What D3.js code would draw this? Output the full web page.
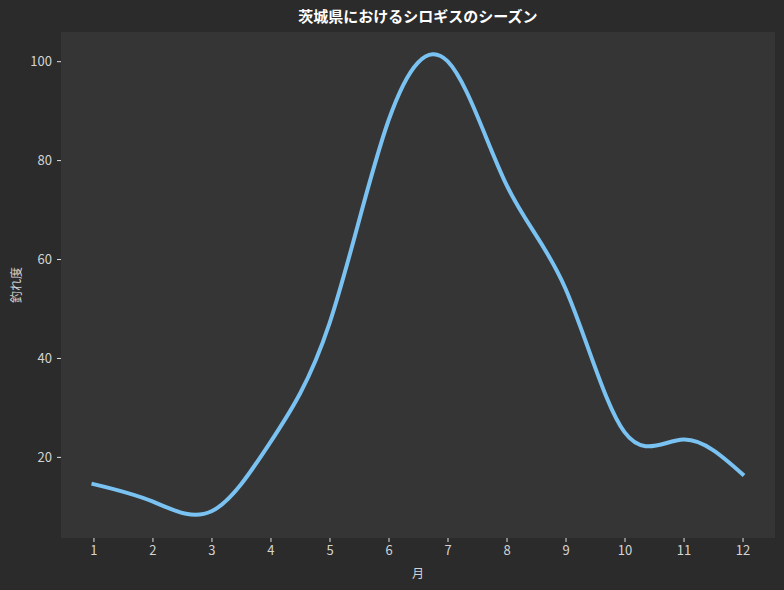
<!DOCTYPE html>
<html>
<head>
<meta charset="utf-8">
<script src="https://cdn.jsdelivr.net/npm/d3@7"></script>
<style>
  html, body { margin: 0; padding: 0; background: #2b2b2b; }
  text { font-family: "Noto Sans CJK JP", "Noto Sans", sans-serif; }
</style>
</head>
<body>
<div class="chart"></div>
<script>
// Monthly values
const months = [1, 2, 3, 4, 5, 6, 7, 8, 9, 10, 11, 12];
const scores = [14.5, 11, 9, 23, 47, 88, 100, 75, 54, 25, 23.5, 16.5];
const yTicks = [20, 40, 60, 80, 100];

const titleText = "茨城県におけるシロギスのシーズン";
const xLabelText = "月";
const yLabelText = "釣れ度";

const data = months.map((m, i) => ({ month: m, value: scores[i] }));

// Margins
const totalW = 784, totalH = 590;
const margin = {top: 32, right: 9, bottom: 52, left: 61};
const width = totalW - margin.left - margin.right;
const height = totalH - margin.top - margin.bottom;

const svg = d3.select(".chart")
    .append("svg")
    .attr("width", totalW)
    .attr("height", totalH);

svg.append("rect")
    .attr("width", totalW)
    .attr("height", totalH)
    .attr("fill", "#2b2b2b");

const g = svg.append("g")
    .attr("transform", `translate(${margin.left}, ${margin.top})`);

// plot background
g.append("rect")
    .attr("width", width)
    .attr("height", height)
    .attr("fill", "#353535");

// Scales
const x = d3.scaleLinear()
    .domain([0.45, 12.55])
    .range([0, width]);

const y = d3.scaleLinear()
    .domain([3.6, 105.9])
    .range([height, 0]);

// Axes
const xAxis = g.append("g")
    .attr("transform", `translate(0, ${height})`)
    .call(d3.axisBottom(x).tickValues(months).tickFormat(d3.format("d")).tickSize(4).tickPadding(4));

const yAxis = g.append("g")
    .call(d3.axisLeft(y).tickValues(yTicks).tickSize(4).tickPadding(5));

[xAxis, yAxis].forEach(ax => {
    ax.select(".domain").remove();
    ax.selectAll(".tick line").attr("stroke", "#e0e0e0").attr("stroke-width", 1);
    ax.selectAll(".tick text")
        .attr("fill", "#d4d4d4")
        .style("font-size", "13px");
});

// Line
const line = d3.line()
    .x(d => x(d.month))
    .y(d => y(d.value))
    .curve(d3.curveNatural);

g.append("path")
    .datum(data)
    .attr("fill", "none")
    .attr("stroke", "#79c2f2")
    .attr("stroke-width", 4)
    .attr("stroke-linecap", "square")
    .attr("d", line);

// Title
svg.append("text")
    .attr("x", margin.left + width / 2)
    .attr("y", 22)
    .attr("text-anchor", "middle")
    .attr("fill", "#ffffff")
    .style("font-size", "15px")
    .style("font-weight", "bold")
    .text(titleText);

// Axis labels
svg.append("text")
    .attr("x", margin.left + width / 2)
    .attr("y", 578)
    .attr("text-anchor", "middle")
    .attr("fill", "#d4d4d4")
    .style("font-size", "12px")
    .text(xLabelText);

svg.append("text")
    .attr("transform", `translate(21, ${margin.top + height / 2}) rotate(-90)`)
    .attr("text-anchor", "middle")
    .attr("fill", "#d4d4d4")
    .style("font-size", "12px")
    .text(yLabelText);
</script>
</body>
</html>
